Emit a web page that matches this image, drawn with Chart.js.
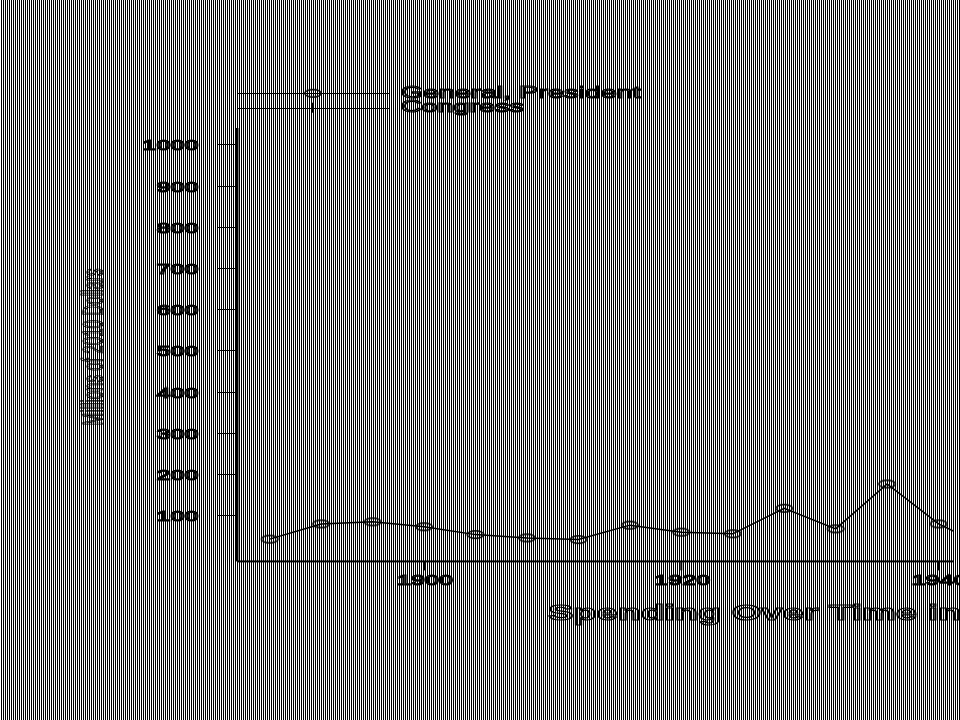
<!DOCTYPE html>
<html>
<head>
<meta charset="utf-8">
<script src="https://cdn.jsdelivr.net/npm/chart.js@4.4.1/dist/chart.umd.min.js"></script>
<style>
html,body{margin:0;padding:0;background:#fff;overflow:hidden}
canvas{display:block}
</style>
</head>
<body>
<canvas id="chart" width="960" height="720"></canvas>
<script>
// election years (only the left part of the figure is visible)
const years = [1888, 1892, 1896, 1900, 1904, 1908, 1912, 1916, 1920, 1924, 1928, 1932, 1936, 1940, 1944];
const presidentSpending = [42, 79, 84, 72, 53, 45, 41, 76, 59, 55, 117, 67, 176, 79, 18];
const congressSpending = [];
const yTicks = [100, 200, 300, 400, 500, 600, 700, 800, 900, 1000];
const xTicks = [1900, 1920, 1940];
const seriesLabels = ['General, President', 'Congress'];
const yTitle = 'Millions of 2010 Dollars';
const chartTitle = 'Spending Over Time in';

const FONT = '"Liberation Sans", Arial, sans-serif';

function ellipseMarker() {
  const c = document.createElement('canvas');
  c.width = 20; c.height = 11;
  const g = c.getContext('2d');
  g.strokeStyle = '#000';
  g.lineWidth = 1.4;
  g.beginPath();
  g.ellipse(10, 5.5, 8.3, 3.8, 0, 0, Math.PI * 2);
  g.stroke();
  return c;
}
const marker = ellipseMarker();

// outlined, horizontally stretched text
function outlineText(ctx, text, x, y, font, sx, align) {
  ctx.save();
  ctx.font = font;
  const w = ctx.measureText(text).width * sx;
  let left = x;
  if (align === 'right') left = x - w;
  else if (align === 'center') left = x - w / 2;
  ctx.translate(left, y);
  ctx.scale(sx, 1);
  ctx.textAlign = 'left';
  ctx.textBaseline = 'alphabetic';
  ctx.strokeStyle = '#000';
  ctx.lineWidth = 1.2;
  ctx.strokeText(text, 0, 0);
  ctx.restore();
}
function fitScale(ctx, text, font, width) {
  ctx.save();
  ctx.font = font;
  const s = width / ctx.measureText(text).width;
  ctx.restore();
  return s;
}

// 1px black / 1px white vertical stripes over the whole page
const stripes = {
  id: 'stripes',
  beforeDraw(chart) {
    const ctx = chart.ctx;
    ctx.save();
    ctx.setTransform(1, 0, 0, 1, 0, 0);
    ctx.fillStyle = '#fff';
    ctx.fillRect(0, 0, chart.width, chart.height);
    ctx.fillStyle = '#000';
    for (let px = 1; px < chart.width; px += 2) ctx.fillRect(px, 0, 1, chart.height);
    ctx.restore();
  }
};

const axesAndText = {
  id: 'axesAndText',
  afterDraw(chart) {
    const ctx = chart.ctx;
    const a = chart.chartArea;
    const x = chart.scales.x, y = chart.scales.y;
    ctx.save();
    ctx.fillStyle = '#000';
    // axis lines
    ctx.fillRect(a.left - 1, a.top, 2.5, a.bottom - a.top);
    ctx.fillRect(a.left, a.bottom - 1, a.right - a.left, 2);

    const tickFont = '15px ' + FONT;
    const tsx = fitScale(ctx, '1000', tickFont, 56);
    yTicks.forEach(v => {
      const py = Math.round(y.getPixelForValue(v));
      ctx.fillRect(a.left - 20, py, 19, 1);
      outlineText(ctx, String(v), 198.5, py + 6, tickFont, tsx, 'right');
    });
    xTicks.forEach(v => {
      const px = x.getPixelForValue(v);
      ctx.fillRect(px - 1, a.bottom, 2, 9);
      outlineText(ctx, String(v), px + 1, 585, tickFont, tsx, 'center');
    });

    // y title, rotated and squeezed
    const yFont = '30px ' + FONT;
    ctx.save();
    ctx.translate(103, 347);
    ctx.rotate(-Math.PI / 2);
    outlineText(ctx, yTitle, 0, 0, yFont, fitScale(ctx, yTitle, yFont, 157), 'center');
    ctx.restore();

    // legend
    const legFont = '17px ' + FONT;
    const lsx = fitScale(ctx, seriesLabels[0], legFont, 240);
    const rows = [93.3, 107.7];
    const textY = [98.3, 111.7];
    chart.data.datasets.forEach((ds, i) => {
      ctx.fillStyle = '#000';
      ctx.fillRect(a.left, Math.round(rows[i]), 390 - a.left, 1);
      if (i === 0) ctx.drawImage(marker, 313 - 10, rows[i] - 5.5);
      else ctx.fillRect(312, rows[i] - 5, 2, 10);
      outlineText(ctx, ds.label, 400.7, textY[i], legFont, lsx, 'left');
    });

    // title (runs off the right edge)
    const tFont = 'bold 22px ' + FONT;
    const tsx2 = fitScale(ctx, 'Spending Over Time', tFont, 369);
    outlineText(ctx, chartTitle, 548, 620, tFont, tsx2, 'left');
    ctx.restore();
  }
};

new Chart(document.getElementById('chart').getContext('2d'), {
  type: 'line',
  data: {
    datasets: [
      {
        label: seriesLabels[0],
        data: years.map((yr, i) => ({x: yr, y: presidentSpending[i]})),
        borderColor: '#000',
        borderWidth: 1.5,
        tension: 0,
        fill: false,
        pointStyle: marker,
        pointRadius: 5
      },
      {
        label: seriesLabels[1],
        data: congressSpending,
        borderColor: '#000',
        borderWidth: 1.5,
        pointStyle: 'line',
        pointRotation: 90,
        fill: false
      }
    ]
  },
  options: {
    responsive: false,
    animation: false,
    devicePixelRatio: 1,
    layout: {padding: {left: 237, top: 128, right: 0, bottom: 158.6}},
    scales: {
      x: {type: 'linear', min: 1885.46, max: 1941.16, display: false},
      y: {min: -12, max: 1040, display: false}
    },
    plugins: {legend: {display: false}, title: {display: false}, tooltip: {enabled: false}}
  },
  plugins: [stripes, axesAndText]
});
</script>
</body>
</html>
